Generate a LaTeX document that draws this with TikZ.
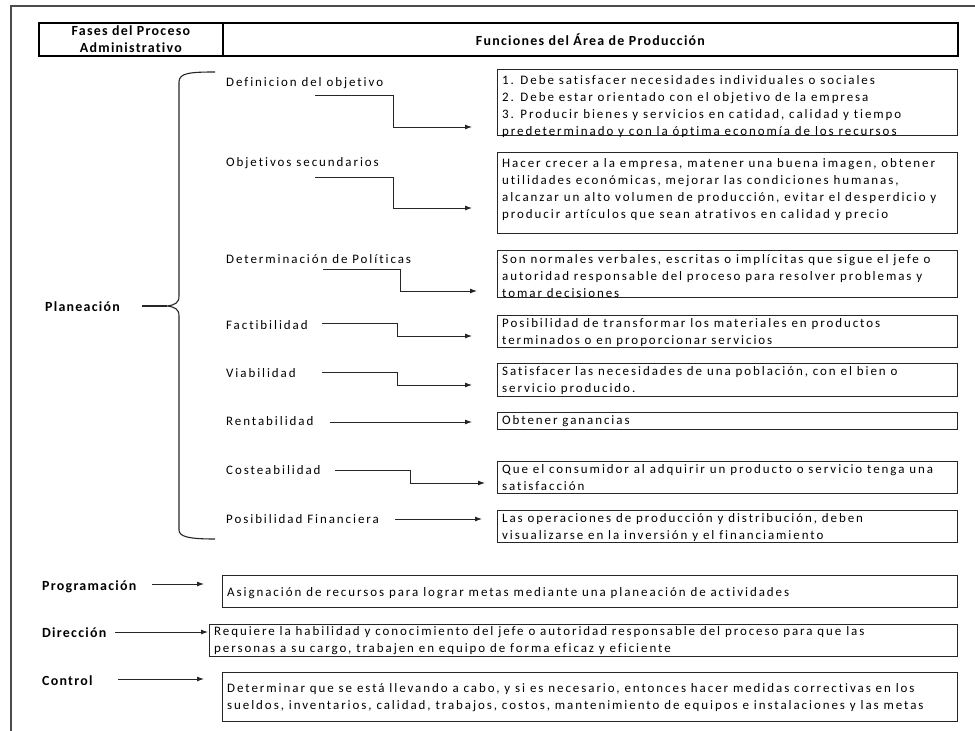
\documentclass[tikz,border=0pt]{standalone}
\usepackage{fontspec}
\setmainfont{Carlito}[LetterSpace=15, Ligatures=NoCommon]
\newfontfamily\headfont{Carlito}[LetterSpace=9, Ligatures=NoCommon]
\usetikzlibrary{arrows.meta,calc}

\tikzset{
  frameline/.style={draw=black!70, line width=1.2bp},
  headcell/.style={draw=black, line width=1.8bp, rectangle, inner sep=0, anchor=north west},
  headtext/.style={inner sep=0, align=center, font=\headfont\bfseries\fontsize{14}{17.5}\selectfont},
  descbox/.style={draw=black!85, line width=1.3bp, rectangle, inner sep=0, anchor=north west},
  desctext/.style={anchor=north west, inner sep=0, align=left, font=\fontsize{13}{17}\selectfont},
  itemtext/.style={anchor=base west, inner sep=0, font=\fontsize{13}{16}\selectfont},
  phasetext/.style={anchor=base west, inner sep=0, font=\headfont\bfseries\fontsize{14}{15}\selectfont},
  conn/.style={draw=black!85, line width=0.9bp, -{Latex[length=7bp,width=5bp]}},
  bracepath/.style={draw=black!85, line width=1.1bp},
}

\begin{document}
\begin{tikzpicture}[x=1bp,y=-1bp]
\useasboundingbox (0,0) rectangle (975,731);

% page frame (top and left rules)
\coordinate (fTL) at (11,6);
\coordinate (fTR) at (975,6);
\coordinate (fBL) at (11,731);
\draw[frameline] (fTR) -- (fTL) -- (fBL);

% table header
\node[headcell, minimum width=184bp, minimum height=33bp] (hL) at (38,22) {};
\node[headcell, minimum width=735bp, minimum height=33bp] (hR) at (222,22) {};
\node[headtext] (hLt) at (hL.center) {Fases del Proceso\\Administrativo};
\node[headtext] (hRt) at (hR.center) {Funciones del Área de Producción};

% description boxes
\node[descbox, minimum width=460bp, minimum height=66bp] (b1) at (497,69) {};
\node[descbox, minimum width=460bp, minimum height=81bp] (b2) at (497,152) {};
\node[descbox, minimum width=460bp, minimum height=47bp] (b3) at (497,250) {};
\node[descbox, minimum width=460bp, minimum height=32bp] (b4) at (497,315) {};
\node[descbox, minimum width=460bp, minimum height=33bp] (b5) at (497,363) {};
\node[descbox, minimum width=460bp, minimum height=17bp] (b6) at (497,412) {};
\node[descbox, minimum width=460bp, minimum height=32bp] (b7) at (497,461) {};
\node[descbox, minimum width=460bp, minimum height=32bp] (b8) at (497,510) {};
\node[descbox, minimum width=735bp, minimum height=32bp] (b9) at (222,575) {};
\node[descbox, minimum width=748bp, minimum height=32bp] (b10) at (209,624) {};
\node[descbox, minimum width=735bp, minimum height=49bp] (b11) at (222,672) {};

\node[desctext] (t1) at ($(b1.north west)+(5,6)$) {1. Debe satisfacer necesidades individuales o sociales\\2. Debe estar orientado con el objetivo de la empresa\\3. Producir bienes y servicios en catidad, calidad y tiempo\\predeterminado y con la óptima economía de los recursos};
\node[desctext] (t2) at ($(b2.north west)+(5,6)$) {Hacer crecer a la empresa, matener una buena imagen, obtener\\utilidades económicas, mejorar las condiciones humanas,\\alcanzar un alto volumen de producción, evitar el desperdicio y\\producir artículos que sean atrativos en calidad y precio};
\node[desctext] (t3) at ($(b3.north west)+(5,4)$) {Son normales verbales, escritas o implícitas que sigue el jefe o\\autoridad responsable del proceso para resolver problemas y\\tomar decisiones};
\node[desctext] (t4) at ($(b4.north west)+(5,3)$) {Posibilidad de transformar los materiales en productos\\terminados o en proporcionar servicios};
\node[desctext] (t5) at ($(b5.north west)+(5,3)$) {Satisfacer las necesidades de una población, con el bien o\\servicio producido.};
\node[desctext, anchor=west] (t6) at ($(b6.west)+(5,0)$) {Obtener ganancias};
\node[desctext] (t7) at ($(b7.north west)+(5,3)$) {Que el consumidor al adquirir un producto o servicio tenga una\\satisfacción};
\node[desctext] (t8) at ($(b8.north west)+(5,3)$) {Las operaciones de producción y distribución, deben\\visualizarse en la inversión y el financiamiento};
\node[desctext, anchor=west] (t9) at ($(b9.west)+(5,1)$) {Asignación de recursos para lograr metas mediante una planeación de actividades};
\node[desctext] (t10) at ($(b10.north west)+(5,2)$) {Requiere la habilidad y conocimiento del jefe o autoridad responsable del proceso para que las\\personas a su cargo, trabajen en equipo de forma eficaz y eficiente};
\node[desctext, anchor=west] (t11) at ($(b11.west)+(5,0)$) {Determinar que se está llevando a cabo, y si es necesario, entonces hacer medidas correctivas en los\\sueldos, inventarios, calidad, trabajos, costos, mantenimiento de equipos e instalaciones y las metas};

% planning items
\node[itemtext] (i1) at (226,87) {Definicion del objetivo};
\node[itemtext] (i2) at (226,167) {Objetivos secundarios};
\node[itemtext] (i3) at (226,263) {Determinación de Políticas};
\node[itemtext] (i4) at (226,329) {Factibilidad};
\node[itemtext] (i5) at (226,377) {Viabilidad};
\node[itemtext] (i6) at (226,425) {Rentabilidad};
\node[itemtext] (i7) at (226,474) {Costeabilidad};
\node[itemtext] (i8) at (226,523) {Posibilidad Financiera};

% phases
\node[phasetext] (pPlan) at (45,311) {Planeación};
\node[phasetext] (pProg) at (42,590) {Programación};
\node[phasetext] (pDir) at (42,637) {Dirección};
\node[phasetext] (pCtl) at (42,685) {Control};

% connector end points
\coordinate (s1) at (315,95);  \coordinate (e1) at (472,127);
\coordinate (s2) at (315,177); \coordinate (e2) at (472,208);
\coordinate (s3) at (323,269); \coordinate (e3) at (477,291);
\coordinate (s4) at (322,323); \coordinate (e4) at (472,336);
\coordinate (s5) at (322,372); \coordinate (e5) at (472,385);
\coordinate (s6) at (330,422); \coordinate (e6) at (472,422);
\coordinate (s7) at (335,470); \coordinate (e7) at (485,483);
\coordinate (s8) at (395,519); \coordinate (e8) at (482,519);

\draw[conn] (s1) -- (393,95) |- (e1);
\draw[conn] (s2) -- (393,177) |- (e2);
\draw[conn] (s3) -- (400,269) |- (e3);
\draw[conn] (s4) -- (397,323) |- (e4);
\draw[conn] (s5) -- (397,372) |- (e5);
\draw[conn] (s6) -- (e6);
\draw[conn] (s7) -- (410,470) |- (e7);
\draw[conn] (s8) -- (e8);

\coordinate (sP) at (152,584); \coordinate (eP) at (204,584);
\coordinate (sD) at (115,632); \coordinate (eD) at (208,632);
\coordinate (sC) at (118,679); \coordinate (eC) at (204,679);
\draw[conn] (sP) -- (eP);
\draw[conn] (sD) -- (eD);
\draw[conn] (sC) -- (eC);

% curly brace grouping the planning items
\coordinate (brTop) at (215,72);
\coordinate (brTip) at (167,306);
\coordinate (brBot) at (215,539);
\coordinate (brLead) at (142,306);
\draw[bracepath] (brTop) .. controls (190,72) and (179,73) .. (179,82)
  -- (179,296) .. controls (179,303) and (175,305) .. (brTip)
  .. controls (175,307) and (179,309) .. (179,316)
  -- (179,530) .. controls (179,537) and (190,539) .. (brBot);
\draw[bracepath] (brLead) -- (brTip);
\end{tikzpicture}
\end{document}
